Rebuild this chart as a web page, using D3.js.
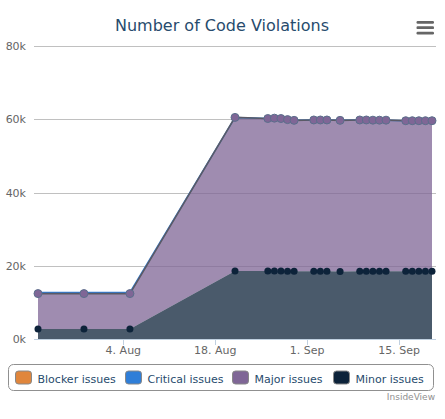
<!DOCTYPE html>
<html><head><meta charset="utf-8">
<script src="https://cdn.jsdelivr.net/npm/d3@7"></script>
<style>html,body{margin:0;padding:0;background:#fff;}svg{display:block;font-family:"DejaVu Sans",Verdana,Arial,sans-serif;}</style>
</head><body>
<svg id="chart" width="445" height="419"></svg>
<script>
const dates = ["2013-07-22","2013-07-29","2013-08-05","2013-08-21","2013-08-26","2013-08-27","2013-08-28","2013-08-29","2013-08-30","2013-09-02","2013-09-03","2013-09-04","2013-09-06","2013-09-09","2013-09-10","2013-09-11","2013-09-12","2013-09-13","2013-09-16","2013-09-17","2013-09-18","2013-09-19","2013-09-20"];
const blockerIssues = [0,0,0,0,0,0,0,0,0,0,0,0,0,0,0,0,0,0,0,0,0,0,0];
const criticalIssues = [300,300,300,0,0,0,0,0,0,0,0,0,0,0,0,0,0,0,0,0,0,0,0];
const majorIssues = [9700,9700,9700,41900,41650,41750,41650,41400,41200,41300,41300,41300,41250,41300,41300,41250,41250,41250,41100,41100,41100,41100,41100];
const minorIssues = [2700,2700,2700,18600,18550,18550,18550,18500,18500,18500,18500,18500,18450,18500,18500,18500,18500,18500,18500,18500,18500,18500,18500];
const seriesNames = ["Blocker issues","Critical issues","Major issues","Minor issues"];
const seriesColors = ["#e0863c","#2f7ed8","#7f6696","#0d233a"];
const yTicks = [0,20000,40000,60000,80000];
const xTickDates = ["2013-08-04","2013-08-18","2013-09-01","2013-09-15"];
const titleText = "Number of Code Violations";
const creditText = "InsideView";

const svg = d3.select("#chart");
const parse = d3.utcParse("%Y-%m-%d");
const xs = dates.map(parse);
const plotL = 34, plotR = 436;
const x = d3.scaleUtc().domain(d3.extent(xs)).range([38, 432]);
const y = d3.scaleLinear().domain([0, 80000]).range([339, 46]);

svg.append("text").attr("x", 222).attr("y", 31).attr("text-anchor","middle")
  .attr("fill","#274b6d").attr("font-size","16px").text(titleText);

[21, 26.3, 31.7].forEach(yy => {
  svg.append("rect").attr("x",416.5).attr("y",yy).attr("width",17.5).attr("height",2.8)
    .attr("rx",1.2).attr("fill","#666");
});

svg.append("g").selectAll("line").data(yTicks.filter(d=>d>0)).join("line")
  .attr("x1",plotL).attr("x2",plotR)
  .attr("y1",d=>Math.round(y(d))+0.5).attr("y2",d=>Math.round(y(d))+0.5)
  .attr("stroke","#c0c0c0").attr("stroke-width",1);

svg.append("g").selectAll("text").data(yTicks).join("text")
  .attr("x",26).attr("y",d=>y(d)+4).attr("text-anchor","end")
  .attr("fill","#666").attr("font-size","11px")
  .text(d=>d3.format("d")(d/1000)+"k");

const table = dates.map((d,i)=>({date:xs[i], "Blocker issues":blockerIssues[i], "Critical issues":criticalIssues[i], "Major issues":majorIssues[i], "Minor issues":minorIssues[i]}));
const stackKeys = ["Minor issues","Major issues","Critical issues","Blocker issues"];
const stacked = d3.stack().keys(stackKeys)(table);
const byKey = {}; stacked.forEach(s=>byKey[s.key]=s);

const area = d3.area().x(d=>x(d.data.date)).y0(d=>y(d[0])).y1(d=>y(d[1]));
const line = d3.line().x(d=>x(d.data.date)).y(d=>y(d[1]));
const colorOf = k => seriesColors[seriesNames.indexOf(k)];

["Blocker issues","Critical issues","Major issues","Minor issues"].forEach(k=>{
  svg.append("path").datum(byKey[k]).attr("d",area)
    .attr("fill",colorOf(k)).attr("fill-opacity",0.75);
});

svg.append("path").datum(byKey["Critical issues"]).attr("d",line)
  .attr("fill","none").attr("stroke",colorOf("Critical issues")).attr("stroke-width",1.5);
svg.append("path").datum(byKey["Major issues"]).attr("d",line)
  .attr("fill","none").attr("stroke","#5a5a66").attr("stroke-width",1.6);

const xa = svg.append("g");
xa.append("line").attr("x1",plotL).attr("x2",plotR).attr("y1",339.5).attr("y2",339.5)
  .attr("stroke","#c0d0e0").attr("stroke-width",1);
xa.selectAll("line.t").data(xTickDates.map(parse)).join("line").attr("class","t")
  .attr("x1",d=>Math.round(x(d))+0.5).attr("x2",d=>Math.round(x(d))+0.5)
  .attr("y1",339).attr("y2",345).attr("stroke","#c0d0e0");
xa.selectAll("text").data(xTickDates.map(parse)).join("text")
  .attr("x",d=>x(d)).attr("y",354).attr("text-anchor","middle")
  .attr("fill","#666").attr("font-size","11px")
  .text(d=>d3.utcFormat("%-d. %b")(d));

svg.append("g").selectAll("circle").data(byKey["Major issues"]).join("circle")
  .attr("cx",d=>x(d.data.date)).attr("cy",d=>y(d[1])).attr("r",4)
  .attr("fill",colorOf("Major issues")).attr("stroke","#5b6f8c").attr("stroke-width",1);
svg.append("g").selectAll("circle").data(byKey["Minor issues"]).join("circle")
  .attr("cx",d=>x(d.data.date)).attr("cy",d=>y(d[1])).attr("r",3.5)
  .attr("fill",colorOf("Minor issues"));

svg.append("rect").attr("x",8.5).attr("y",364.5).attr("width",425).attr("height",26)
  .attr("rx",5).attr("fill","none").attr("stroke","#909090").attr("stroke-width",1);
const legendX = [15.5,125.5,232.5,333.5];
const lg = svg.append("g").selectAll("g").data(seriesNames).join("g")
  .attr("transform",(d,i)=>`translate(${legendX[i]},0)`);
lg.append("rect").attr("x",0).attr("y",371).attr("width",16).attr("height",13).attr("rx",3)
  .attr("fill",(d,i)=>seriesColors[i]).attr("stroke","#888").attr("stroke-width",1);
lg.append("text").attr("x",22).attr("y",382.5).attr("fill","#274b6d").attr("font-size","11px").text(d=>d);

svg.append("text").attr("x",435).attr("y",400).attr("text-anchor","end")
  .attr("fill","#909090").attr("font-size","9px").text(creditText);
</script>
</body></html>
